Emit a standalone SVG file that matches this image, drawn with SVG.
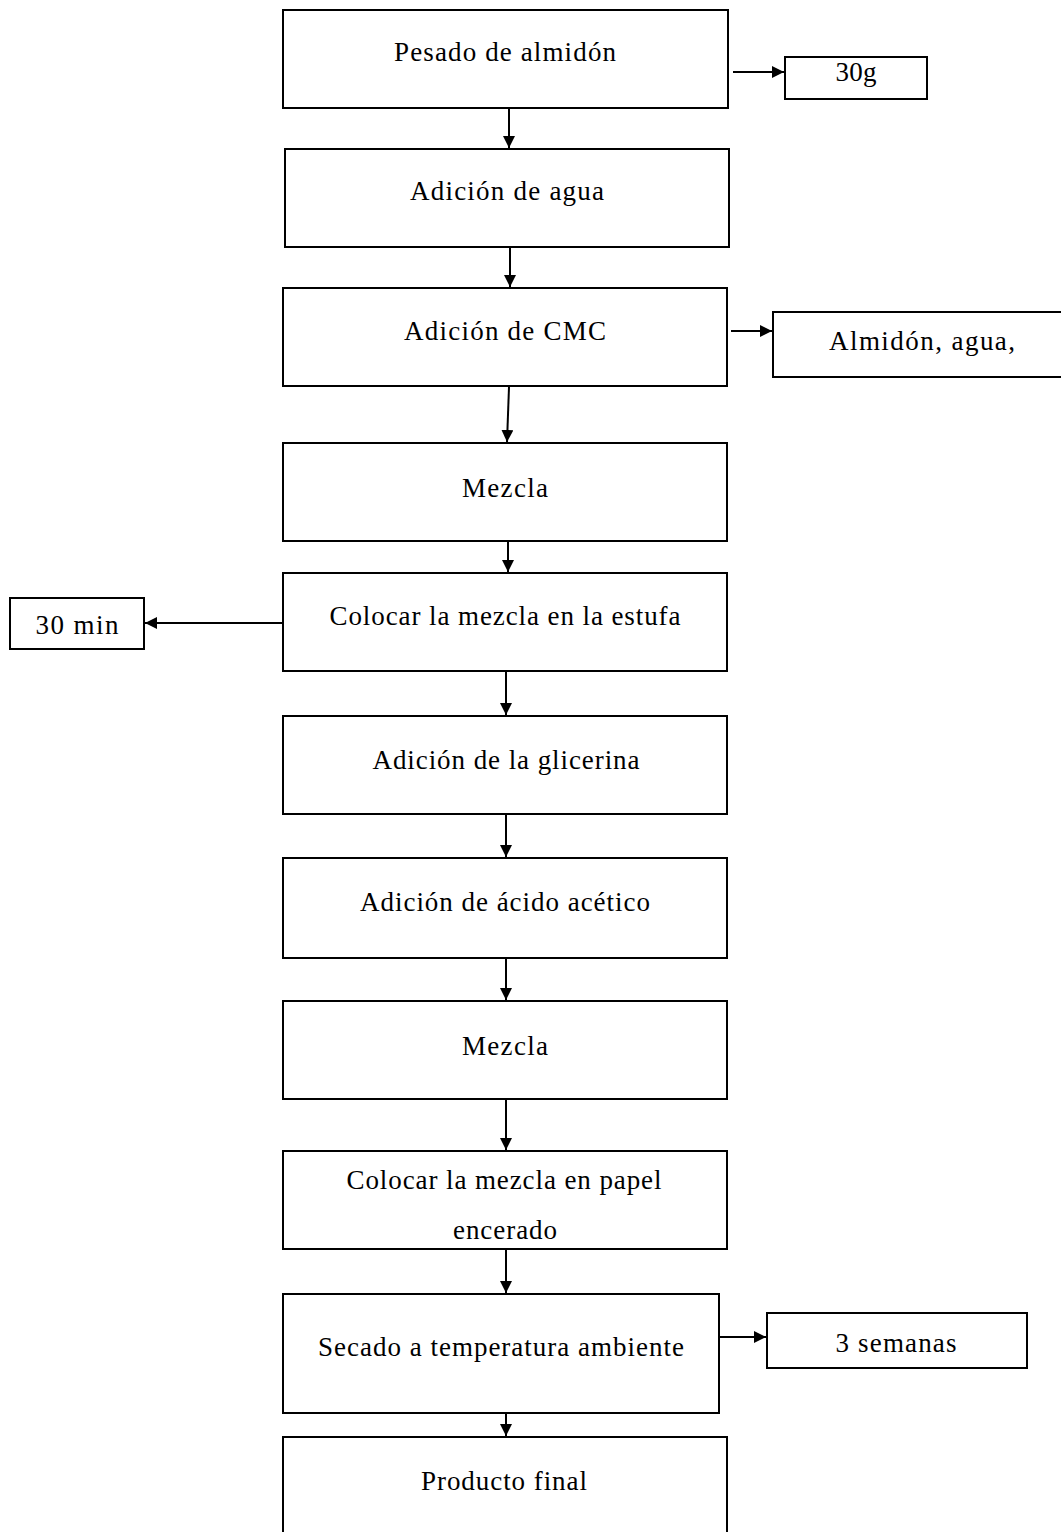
<svg xmlns="http://www.w3.org/2000/svg" width="1061" height="1532" viewBox="0 0 1061 1532">
<style>
rect{fill:#fff;stroke:#000;stroke-width:2}
text{font-family:"Liberation Serif","Times New Roman","DejaVu Serif",serif;font-size:27px;fill:#000;text-anchor:middle}
.c line{stroke:#000;stroke-width:2}
</style>
<defs>
<marker id="ah" viewBox="0 0 10 10" refX="10" refY="5" markerWidth="6" markerHeight="6" orient="auto" markerUnits="strokeWidth">
<path d="M0,0 L10,5 L0,10 z" fill="#000"/>
</marker>
</defs>
<g id="n1"><rect x="283" y="10" width="445" height="98"/><text x="505" y="61" textLength="222">Pesado de almidón</text></g>
<g id="n1s"><rect x="785" y="57" width="142" height="42"/><text x="856" y="81" textLength="41">30g</text></g>
<g id="n2"><rect x="285" y="149" width="444" height="98"/><text x="507" y="200" textLength="194">Adición de agua</text></g>
<g id="n3"><rect x="283" y="288" width="444" height="98"/><text x="505" y="340" textLength="202">Adición de CMC</text></g>
<g id="n3s"><rect x="773" y="312" width="295" height="65"/><text x="922" y="350" textLength="186">Almidón, agua,</text></g>
<g id="n4"><rect x="283" y="443" width="444" height="98"/><text x="505" y="497" textLength="86">Mezcla</text></g>
<g id="n5"><rect x="283" y="573" width="444" height="98"/><text x="505" y="625" textLength="351">Colocar la mezcla en la estufa</text></g>
<g id="n5s"><rect x="10" y="598" width="134" height="51"/><text x="77" y="634" textLength="83">30 min</text></g>
<g id="n6"><rect x="283" y="716" width="444" height="98"/><text x="506" y="769" textLength="267">Adición de la glicerina</text></g>
<g id="n7"><rect x="283" y="858" width="444" height="100"/><text x="505" y="911" textLength="290">Adición de ácido acético</text></g>
<g id="n8"><rect x="283" y="1001" width="444" height="98"/><text x="505" y="1055" textLength="86">Mezcla</text></g>
<g id="n9"><rect x="283" y="1151" width="444" height="98"/><text x="504" y="1189" textLength="315">Colocar la mezcla en papel</text><text x="505" y="1239" textLength="104">encerado</text></g>
<g id="n10"><rect x="283" y="1294" width="436" height="119"/><text x="501" y="1356" textLength="366">Secado a temperatura ambiente</text></g>
<g id="n10s"><rect x="767" y="1313" width="260" height="55"/><text x="896" y="1352" textLength="121">3 semanas</text></g>
<g id="n11"><rect x="283" y="1437" width="444" height="110"/><text x="504" y="1490" textLength="166">Producto final</text></g>
<g class="c" id="connectors">
<line x1="509" y1="109" x2="509" y2="148" marker-end="url(#ah)"/>
<line x1="733" y1="72" x2="784" y2="72" marker-end="url(#ah)"/>
<line x1="510" y1="248" x2="510" y2="287" marker-end="url(#ah)"/>
<line x1="731" y1="331" x2="772" y2="331" marker-end="url(#ah)"/>
<line x1="509" y1="387" x2="507" y2="442" marker-end="url(#ah)"/>
<line x1="508" y1="542" x2="508" y2="572" marker-end="url(#ah)"/>
<line x1="283" y1="623" x2="145" y2="623" marker-end="url(#ah)"/>
<line x1="506" y1="672" x2="506" y2="715" marker-end="url(#ah)"/>
<line x1="506" y1="815" x2="506" y2="857" marker-end="url(#ah)"/>
<line x1="506" y1="959" x2="506" y2="1000" marker-end="url(#ah)"/>
<line x1="506" y1="1100" x2="506" y2="1150" marker-end="url(#ah)"/>
<line x1="506" y1="1250" x2="506" y2="1293" marker-end="url(#ah)"/>
<line x1="720" y1="1337" x2="766" y2="1337" marker-end="url(#ah)"/>
<line x1="506" y1="1414" x2="506" y2="1436" marker-end="url(#ah)"/>
</g>
</svg>
